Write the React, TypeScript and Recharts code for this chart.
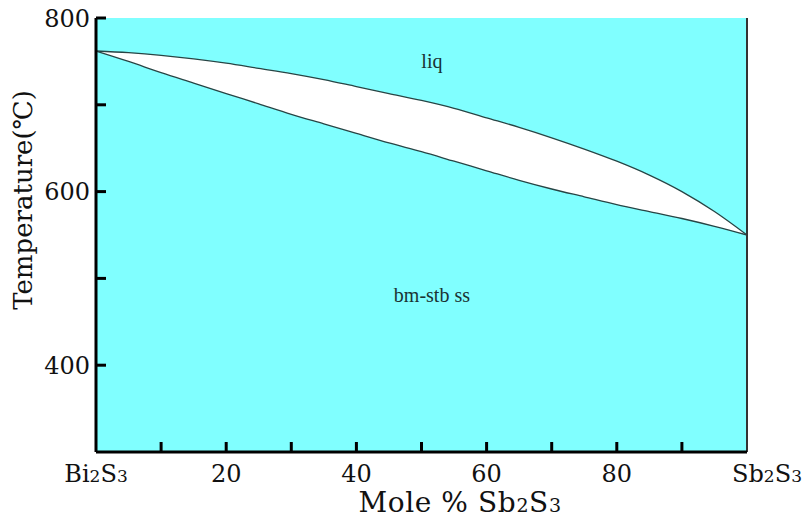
import React from 'react';
import {
  ComposedChart, Area, Line, XAxis, YAxis, CartesianGrid, ReferenceLine, ReferenceDot
} from 'recharts';

// composition, mole % Sb2S3
const composition = [0, 5, 10, 15, 20, 25, 30, 35, 40, 45, 50, 55, 60, 65, 70, 75, 80, 85, 90, 95, 100];
// liquidus (upper curve), degC
const liquidus = [762, 760, 757, 753, 748, 742, 736, 729, 721, 713, 705, 696, 685, 674, 662, 649, 635, 619, 600, 577, 550];
// solidus (lower curve), degC
const solidus = [762, 750, 737, 725, 713, 701, 689, 678, 667, 656, 646, 635, 624, 613, 603, 594, 585, 577, 569, 560, 550];

const xTicks = [0, 10, 20, 30, 40, 50, 60, 70, 80, 90, 100];
const xLabels = [0, 20, 40, 60, 80, 100];
const yTicks = [400, 500, 600, 700, 800];
const yLabels = [400, 600, 800];

const W = 811;
const H = 521;
const YAXIS_W = 96;
const XAXIS_H = 69;
const PLOT_LEFT = YAXIS_W;
const PLOT_BOTTOM = H - XAXIS_H;
const SERIF = '"DejaVu Serif", serif';

const rows = composition.map((x, i) => ({
  x,
  liq: liquidus[i],
  sol: solidus[i],
  band: [solidus[i], liquidus[i]],
}));

const Formula = ({ a, b, sub = 17 }: { a: string; b: string; sub?: number }) => (
  <>
    {a}<tspan fontSize={sub}>2</tspan>{b}<tspan fontSize={sub}>3</tspan>
  </>
);

const YTick = (props: any) => {
  const { y, payload } = props;
  const v = payload.value;
  return (
    <g>
      <line x1={PLOT_LEFT} x2={PLOT_LEFT + 10} y1={y} y2={y} stroke="#000" strokeWidth={3} />
      {yLabels.includes(v) && (
        <text x={PLOT_LEFT - 6} y={y} dy="0.36em" textAnchor="end" fontFamily={SERIF} fontSize={24} fill="#111">
          {v}
        </text>
      )}
    </g>
  );
};

const XTick = (props: any) => {
  const { x, payload } = props;
  const v = payload.value;
  let label: React.ReactNode = null;
  if (v === 0) label = <Formula a="Bi" b="S" />;
  else if (v === 100) label = <Formula a="Sb" b="S" />;
  else if (xLabels.includes(v)) label = String(v);
  return (
    <g>
      {v > 0 && v < 100 && (
        <line x1={x} x2={x} y1={PLOT_BOTTOM} y2={PLOT_BOTTOM - 10} stroke="#000" strokeWidth={3} />
      )}
      {label && (
        <text x={x} dx={v === 100 ? 20 : 0} y={PLOT_BOTTOM + 30} textAnchor="middle" fontFamily={SERIF} fontSize={24} fill="#111">
          {label}
        </text>
      )}
    </g>
  );
};

export default function App() {
  return (
    <div style={{ position: 'absolute', left: 0, top: 0, width: W, height: H, background: '#fff' }}>
      <ComposedChart width={W} height={H} data={rows} margin={{ top: 18, right: 64, bottom: 0, left: 0 }}>
        <CartesianGrid fill="#80FFFF" horizontal={false} vertical={false} stroke="none" />
        <XAxis
          type="number"
          dataKey="x"
          domain={[0, 100]}
          ticks={xTicks}
          height={XAXIS_H}
          tickLine={false}
          axisLine={{ stroke: '#000', strokeWidth: 3 }}
          tick={<XTick />}
          interval={0}
          label={{
            content: () => (
              <text x={460} y={512} textAnchor="middle" fontFamily={SERIF} fontSize={28} letterSpacing={0.6} fill="#111">
                Mole % <Formula a="Sb" b="S" sub={19} />
              </text>
            ),
          }}
        />
        <YAxis
          type="number"
          domain={[300, 800]}
          ticks={yTicks}
          width={YAXIS_W}
          tickLine={false}
          axisLine={{ stroke: '#000', strokeWidth: 3 }}
          tick={<YTick />}
          interval={0}
          allowDataOverflow
          label={{
            content: () => (
              <text x={32} y={200} transform="rotate(-90 32 200)" textAnchor="middle" fontFamily={SERIF} fontSize={26} fill="#111">
                Temperature(℃)
              </text>
            ),
          }}
        />
        <Area
          type="monotone"
          dataKey="band"
          fill="#ffffff"
          fillOpacity={1}
          stroke="none"
          isAnimationActive={false}
        />
        <Line type="monotone" dataKey="liq" stroke="#274545" strokeWidth={1.3} dot={false} isAnimationActive={false} />
        <Line type="monotone" dataKey="sol" stroke="#274545" strokeWidth={1.3} dot={false} isAnimationActive={false} />
        <ReferenceLine x={100} stroke="#333" strokeWidth={2} />
        <ReferenceDot
          x={51.6}
          y={751}
          r={0}
          label={{ value: 'liq', position: 'center', fontFamily: '"Liberation Serif", serif', fontSize: 20, fill: '#1a3333' }}
        />
        <ReferenceDot
          x={51.6}
          y={481}
          r={0}
          label={{ value: 'bm-stb ss', position: 'center', fontFamily: '"Liberation Serif", serif', fontSize: 20, fill: '#1a3333' }}
        />
      </ComposedChart>
    </div>
  );
}
